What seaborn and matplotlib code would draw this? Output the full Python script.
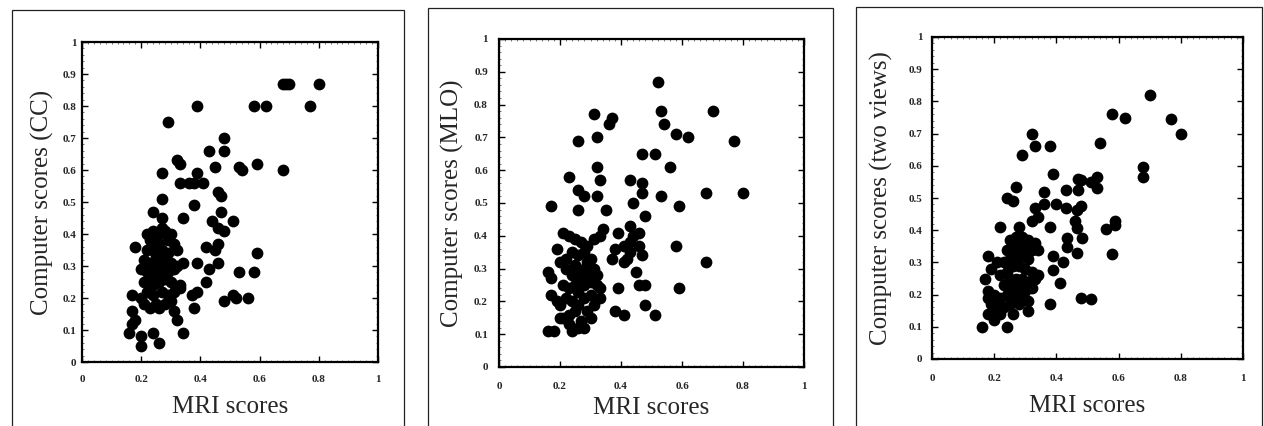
import numpy as np
import pandas as pd
import matplotlib
matplotlib.use("Agg")
import matplotlib.pyplot as plt
from matplotlib.patches import Rectangle
from matplotlib.ticker import MultipleLocator
import seaborn as sns

# ---------------- data ----------------
X_TICKS = [0, 0.2, 0.4, 0.6, 0.8, 1.0]
X_TICK_LABELS = ["0", "0.2", "0.4", "0.6", "0.8", "1"]
Y_TICKS = [0, 0.1, 0.2, 0.3, 0.4, 0.5, 0.6, 0.7, 0.8, 0.9, 1.0]
Y_TICK_LABELS = ["0", "0.1", "0.2", "0.3", "0.4", "0.5", "0.6", "0.7", "0.8", "0.9", "1"]
X_LABEL = "MRI scores"
Y_LABELS = ["Computer scores (CC)", "Computer scores (MLO)", "Computer scores (two views)"]

cc_mri = [0.80, 0.68, 0.69, 0.70, 0.77, 0.58, 0.62, 0.39, 0.29, 0.48, 0.43, 0.48, 0.32, 0.33,
          0.27, 0.39, 0.45, 0.53, 0.54, 0.59, 0.68, 0.33, 0.36, 0.38, 0.41, 0.46, 0.47, 0.27, 0.38,
          0.24, 0.27, 0.34, 0.47, 0.44, 0.46, 0.48, 0.51, 0.42, 0.45, 0.46, 0.59, 0.53, 0.58, 0.39,
          0.43, 0.46, 0.42, 0.37, 0.39, 0.38, 0.48, 0.51, 0.52, 0.56, 0.34, 0.32, 0.31, 0.16, 0.20,
          0.20, 0.24, 0.26, 0.17, 0.18, 0.17, 0.17, 0.18,
          0.22, 0.24, 0.26, 0.28, 0.30, 0.27, 0.23, 0.25, 0.29, 0.31, 0.26, 0.22, 0.24, 0.27, 0.29,
          0.32, 0.25, 0.21, 0.23, 0.26, 0.28, 0.30, 0.32, 0.34, 0.20, 0.22, 0.24, 0.27, 0.29, 0.31,
          0.25, 0.21, 0.23, 0.26, 0.28, 0.30, 0.33, 0.24, 0.20, 0.22, 0.24, 0.27, 0.29, 0.31, 0.33,
          0.21, 0.23, 0.25, 0.28, 0.30, 0.26]
cc_cad = [0.87, 0.87, 0.87, 0.87, 0.80, 0.80, 0.80, 0.80, 0.75, 0.70, 0.66, 0.66, 0.63, 0.62,
          0.59, 0.59, 0.61, 0.61, 0.60, 0.62, 0.60, 0.56, 0.56, 0.56, 0.56, 0.53, 0.52, 0.51, 0.49,
          0.47, 0.45, 0.45, 0.47, 0.44, 0.42, 0.41, 0.44, 0.36, 0.35, 0.37, 0.34, 0.28, 0.28, 0.31,
          0.29, 0.31, 0.25, 0.21, 0.22, 0.17, 0.19, 0.21, 0.20, 0.20, 0.09, 0.13, 0.16, 0.09, 0.08,
          0.05, 0.09, 0.06, 0.16, 0.13, 0.12, 0.21, 0.36,
          0.40, 0.41, 0.40, 0.41, 0.40, 0.42, 0.38, 0.38, 0.38, 0.37, 0.37, 0.35, 0.35, 0.35, 0.34,
          0.35, 0.33, 0.32, 0.31, 0.32, 0.32, 0.31, 0.30, 0.31, 0.29, 0.28, 0.29, 0.29, 0.28, 0.29,
          0.27, 0.25, 0.26, 0.25, 0.26, 0.25, 0.24, 0.24, 0.20, 0.22, 0.21, 0.22, 0.21, 0.22, 0.23,
          0.18, 0.17, 0.18, 0.18, 0.19, 0.17]

mlo_mri = [0.52, 0.53, 0.70, 0.31, 0.37, 0.36, 0.54, 0.58, 0.62, 0.32, 0.26, 0.77, 0.47, 0.51,
           0.32, 0.56, 0.23, 0.33, 0.43, 0.47, 0.47, 0.26, 0.28, 0.32, 0.53, 0.68, 0.80, 0.17, 0.44,
           0.59, 0.26, 0.35,
           0.48, 0.43, 0.46, 0.34, 0.39, 0.58, 0.68, 0.59, 0.39, 0.46, 0.48, 0.48, 0.51, 0.38, 0.41,
           0.38, 0.37, 0.41, 0.43, 0.45, 0.47, 0.41, 0.43, 0.46, 0.44, 0.42,
           0.16, 0.18, 0.20, 0.24, 0.28, 0.30, 0.19, 0.16, 0.17, 0.17, 0.19,
           0.21, 0.23, 0.25, 0.27, 0.29, 0.31, 0.33, 0.22, 0.24, 0.26, 0.28, 0.30, 0.25, 0.20, 0.22,
           0.24, 0.26, 0.28, 0.30, 0.27, 0.21, 0.23, 0.25, 0.28, 0.30, 0.32, 0.26, 0.20, 0.22, 0.24,
           0.26, 0.28, 0.30, 0.33, 0.25, 0.21, 0.23, 0.27, 0.29, 0.31, 0.23, 0.26, 0.29, 0.31, 0.32,
           0.33]
mlo_cad = [0.87, 0.78, 0.78, 0.77, 0.76, 0.74, 0.74, 0.71, 0.70, 0.70, 0.69, 0.69, 0.65, 0.65,
           0.61, 0.61, 0.58, 0.57, 0.57, 0.56, 0.53, 0.54, 0.52, 0.52, 0.52, 0.53, 0.53, 0.49, 0.50,
           0.49, 0.48, 0.48,
           0.46, 0.43, 0.41, 0.42, 0.41, 0.37, 0.32, 0.24, 0.24, 0.25, 0.25, 0.19, 0.16, 0.17, 0.16,
           0.36, 0.33, 0.37, 0.35, 0.29, 0.34, 0.32, 0.38, 0.37, 0.40, 0.33,
           0.11, 0.11, 0.15, 0.11, 0.12, 0.15, 0.36, 0.29, 0.27, 0.22, 0.20,
           0.41, 0.40, 0.39, 0.38, 0.37, 0.39, 0.40, 0.33, 0.35, 0.34, 0.35, 0.33, 0.31, 0.32, 0.30,
           0.28, 0.29, 0.30, 0.28, 0.27, 0.25, 0.24, 0.25, 0.25, 0.26, 0.25, 0.23, 0.19, 0.21, 0.20,
           0.19, 0.21, 0.22, 0.21, 0.17, 0.15, 0.16, 0.14, 0.17, 0.19, 0.13, 0.12, 0.32, 0.30, 0.28,
           0.24]

two_mri = [0.70, 0.58, 0.62, 0.77, 0.80, 0.32, 0.33, 0.38, 0.29, 0.54, 0.68, 0.68, 0.39, 0.27,
           0.36, 0.43, 0.47, 0.47, 0.48, 0.51, 0.53, 0.53, 0.24, 0.26,
           0.33, 0.36, 0.40, 0.43, 0.48, 0.465, 0.32, 0.34, 0.38, 0.22, 0.28, 0.46, 0.465, 0.433,
           0.481, 0.433, 0.465, 0.56, 0.59, 0.59, 0.58, 0.39, 0.39, 0.42, 0.41, 0.48, 0.51, 0.38,
           0.31, 0.31, 0.28, 0.26, 0.16, 0.24, 0.20, 0.18, 0.17, 0.18, 0.19,
           0.25, 0.27, 0.29, 0.31, 0.33, 0.26, 0.28, 0.30, 0.32, 0.34, 0.24, 0.27, 0.29, 0.31, 0.25,
           0.23, 0.21, 0.26, 0.28, 0.30, 0.32, 0.34, 0.24, 0.22, 0.25, 0.27, 0.29, 0.31, 0.33, 0.23,
           0.26, 0.28, 0.30, 0.32, 0.20, 0.22, 0.24, 0.26, 0.28, 0.18, 0.19, 0.21, 0.23, 0.25, 0.18,
           0.20, 0.22, 0.30, 0.27, 0.29, 0.31]
two_cad = [0.82, 0.76, 0.75, 0.745, 0.70, 0.70, 0.66, 0.66, 0.635, 0.67, 0.595, 0.565, 0.575, 0.535,
           0.52, 0.525, 0.56, 0.525, 0.555, 0.55, 0.565, 0.53, 0.50, 0.49,
           0.47, 0.48, 0.48, 0.47, 0.475, 0.463, 0.43, 0.44, 0.41, 0.41, 0.41, 0.43, 0.406, 0.375,
           0.375, 0.349, 0.328, 0.405, 0.43, 0.415, 0.325, 0.32, 0.275, 0.30, 0.235, 0.19, 0.185, 0.17,
           0.18, 0.15, 0.17, 0.14, 0.10, 0.10, 0.12, 0.14, 0.25, 0.32, 0.28,
           0.37, 0.38, 0.38, 0.37, 0.36, 0.35, 0.35, 0.34, 0.34, 0.34, 0.34, 0.32, 0.32, 0.31, 0.31,
           0.30, 0.30, 0.29, 0.29, 0.28, 0.27, 0.26, 0.27, 0.26, 0.25, 0.25, 0.25, 0.24, 0.25, 0.23,
           0.22, 0.22, 0.23, 0.22, 0.20, 0.19, 0.20, 0.20, 0.20, 0.19, 0.17, 0.17, 0.16, 0.17, 0.21,
           0.15, 0.14, 0.21, 0.18, 0.36, 0.35]

panels = [(cc_mri, cc_cad), (mlo_mri, mlo_cad), (two_mri, two_cad)]

# ---------------- style ----------------
sns.set_theme(style="white")
plt.rcParams["font.family"] = ["Liberation Serif", "DejaVu Serif"]

W, H = 1264, 426
fig = plt.figure(figsize=(W / 100, H / 100), dpi=100)

# axes boxes in pixels: (left, right, top, bottom)
axes_px = [(82, 378, 42, 362), (499, 804, 39, 367), (932, 1243, 37, 359)]
frames_px = [(12, 404, 10), (428, 833, 8), (856, 1262, 7)]
ylabel_x = [-0.132, -0.151, -0.161]
xlabel_y = [-0.159, -0.143, -0.165]
x_pads = [9, 11, 11]
y_pads = [4, 8, 7]

for i, ((xs, ys), (l, r, t, b)) in enumerate(zip(panels, axes_px)):
    ax = fig.add_axes([l / W, (H - b) / H, (r - l) / W, (b - t) / H])
    df = pd.DataFrame({"mri": xs, "cad": ys})
    sns.scatterplot(data=df, x="mri", y="cad", ax=ax, color="black", s=72,
                    linewidth=0, alpha=1.0, legend=False)
    ax.set_xlim(0, 1)
    ax.set_ylim(0, 1)
    ax.set_xticks(X_TICKS)
    ax.set_yticks(Y_TICKS)
    ax.set_xticklabels(X_TICK_LABELS, fontsize=8, fontweight="bold")
    ax.set_yticklabels(Y_TICK_LABELS, fontsize=8, fontweight="bold")
    ax.xaxis.set_minor_locator(MultipleLocator(0.02))
    ax.yaxis.set_minor_locator(MultipleLocator(0.02))
    ax.tick_params(which="major", direction="in", length=4, width=1.0, color="black",
                   top=True, right=True, bottom=True, left=True)
    ax.tick_params(which="minor", direction="in", length=1.5, width=0.5, color="#444444",
                   top=True, right=True, bottom=True, left=True)
    ax.tick_params(axis="x", which="major", pad=x_pads[i])
    ax.tick_params(axis="y", which="major", pad=y_pads[i])
    for sp in ax.spines.values():
        sp.set_visible(True)
        sp.set_color("black")
        sp.set_linewidth(1.6)
    ax.set_xlabel(X_LABEL, fontsize=18, va="baseline")
    ax.xaxis.set_label_coords(0.5, xlabel_y[i])
    ax.set_ylabel(Y_LABELS[i], fontsize=18, va="center")
    ax.yaxis.set_label_coords(ylabel_x[i], 0.5)
    ax.set_facecolor("white")

# outer panel frames (bottom edge is cut off by the image)
for (fl, fr, ft) in frames_px:
    rect = Rectangle((fl / W, -0.2), (fr - fl) / W, (H - ft) / H + 0.2,
                     transform=fig.transFigure, fill=False, edgecolor="#222222",
                     linewidth=0.9)
    fig.add_artist(rect)

fig.savefig("out.png", dpi=100, facecolor="white")
